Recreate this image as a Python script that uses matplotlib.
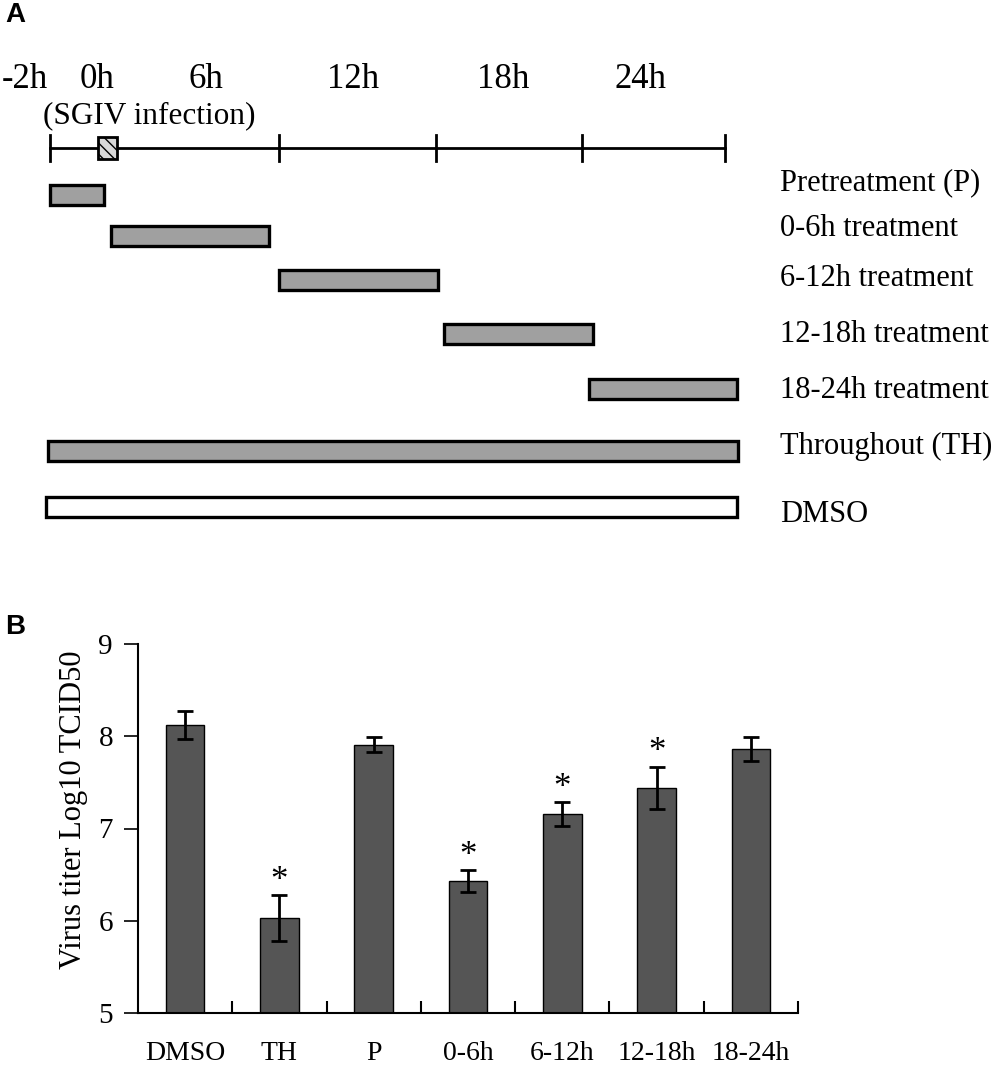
import numpy as np
import matplotlib.pyplot as plt
from matplotlib.patches import Rectangle

plt.rcParams['font.family'] = ['Liberation Serif', 'DejaVu Serif']

# ---- panel A: treatment schedule (schematic, not to scale) ----
time_labels = ['-2h', '0h', '6h', '12h', '18h', '24h']
time_label_x = [25, 97, 206, 353, 503, 640]
timeline_ticks = [50, 279, 436, 582, 725]
infection_box = (98, 117)

treatments = ['Pretreatment (P)', '0-6h treatment', '6-12h treatment',
              '12-18h treatment', '18-24h treatment', 'Throughout (TH)', 'DMSO']
treat_start = [50, 111, 279, 444, 589, 48, 46]
treat_end = [104, 269, 438, 593, 737, 738, 737]
treat_row = [195, 236, 280, 334, 389, 451, 507]
treat_label_y = [183, 229, 278, 335, 390, 446, 514]
treat_fill = ['#a0a0a0'] * 6 + ['white']

# ---- panel B: virus titer ----
groups = ['DMSO', 'TH', 'P', '0-6h', '6-12h', '12-18h', '18-24h']
titer = [8.12, 6.03, 7.91, 6.43, 7.16, 7.44, 7.86]
titer_err = [0.15, 0.25, 0.08, 0.12, 0.13, 0.23, 0.13]
significant = [False, True, False, True, True, True, False]

fig = plt.figure(figsize=(10, 10.67), dpi=100)

axA = fig.add_axes([0, 1 - 540 / 1067, 1, 540 / 1067])
axA.set_xlim(0, 1000)
axA.set_ylim(540, 0)
axA.axis('off')

axA.plot([timeline_ticks[0], timeline_ticks[-1]], [148, 148], color='black', lw=2)
for tx in timeline_ticks:
    axA.plot([tx, tx], [135, 161], color='black', lw=2)
axA.add_patch(Rectangle((infection_box[0], 137), infection_box[1] - infection_box[0], 22,
                        facecolor='#d8d8d8', edgecolor='black', lw=2, hatch='\\\\\\', zorder=3))
for lab, lx in zip(time_labels, time_label_x):
    axA.text(lx, 80, lab, ha='center', va='center', fontsize=25)
axA.text(149, 116, '(SGIV infection)', ha='center', va='center', fontsize=22.5)

for s, e, r, fc in zip(treat_start, treat_end, treat_row, treat_fill):
    axA.add_patch(Rectangle((s, r - 10), e - s, 20, facecolor=fc, edgecolor='black', lw=2.4))
for lab, ly in zip(treatments, treat_label_y):
    axA.text(780, ly, lab, ha='left', va='center', fontsize=22)

fig.text(0.005, 1 - 15 / 1067, 'A', fontsize=20, fontweight='bold',
         family='Liberation Sans', ha='left', va='center')
fig.text(0.005, 1 - 627 / 1067, 'B', fontsize=20, fontweight='bold',
         family='Liberation Sans', ha='left', va='center')

# bar chart
axB = fig.add_axes([0.138, 1 - 1013 / 1067, 0.66, 369 / 1067])
x = np.arange(len(groups))
axB.bar(x, titer, width=0.41, color='#555555', edgecolor='black', lw=1, bottom=0)
axB.errorbar(x, titer, yerr=titer_err, fmt='none', ecolor='black', elinewidth=2,
             capsize=5.5, capthick=2)
for xi, v, er, sig in zip(x, titer, titer_err, significant):
    if sig:
        axB.annotate('*', (xi, v + er), xytext=(0, -2), textcoords='offset points',
                     ha='center', va='bottom', fontsize=25)

axB.set_xlim(-0.5, len(groups) - 0.5)
axB.set_ylim(5, 9)
axB.set_yticks([5, 6, 7, 8, 9])
axB.tick_params(axis='y', direction='out', length=10, width=1.2, labelsize=21, pad=8)
axB.set_xticks(x)
axB.set_xticklabels(groups, fontsize=20)
axB.tick_params(axis='x', which='major', length=0, pad=20)
axB.set_xticks(np.arange(0.5, len(groups), 1), minor=True)
axB.tick_params(axis='x', which='minor', direction='in', length=9, width=1.5)
for side in ['top', 'right']:
    axB.spines[side].set_visible(False)
axB.spines['left'].set_linewidth(1.5)
axB.spines['bottom'].set_linewidth(1.5)
axB.set_ylabel('Virus titer Log10 TCID50', fontsize=22)
axB.yaxis.set_label_coords(-0.076, 0.55)

fig.savefig('out.png', dpi=100)
